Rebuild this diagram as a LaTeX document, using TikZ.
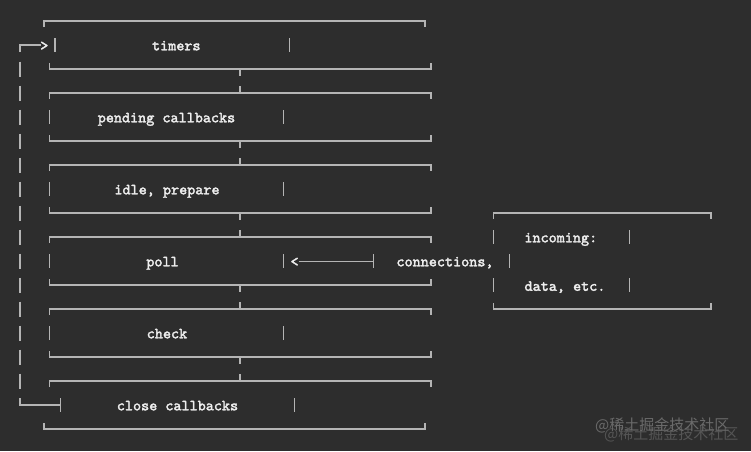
\documentclass[tikz,border=0pt]{standalone}
\usepackage{fontspec}
\newfontfamily\cjk{Noto Sans CJK SC}
\newfontfamily\mono{lmmono10-regular.otf}[FakeBold=2.2]
\definecolor{bgc}{HTML}{2D2D2D}
\definecolor{linec}{HTML}{B4B4B4}
\definecolor{txtc}{HTML}{EEEEEE}
\definecolor{wma}{HTML}{6A6A6A}
\definecolor{wmb}{HTML}{555555}
\begin{document}
\begin{tikzpicture}[x=1pt,y=-1pt,
  ln/.style={draw=linec, line width=1.3pt},
  txt/.style={text=txtc, font=\mono\fontsize{15.4}{16}\selectfont, inner sep=0pt, anchor=base},
  wm/.style={font=\cjk\fontsize{15}{16}\selectfont, inner sep=0pt, anchor=base west}]
\fill[bgc] (0,0) rectangle (751,451);
\useasboundingbox (0,0) rectangle (751,451);

% ---------- phase boxes: top borders ----------
\draw[ln] (44,27) -- (44,21) -- (425,21) -- (425,27);
\foreach \i in {1,...,5}{
  \pgfmathsetmacro{\yt}{21+72*\i}
  \draw[ln] (49.5,\yt+6) -- (49.5,\yt) -- (431,\yt) -- (431,\yt+6);
  \draw[ln] (240,\yt) -- (240,\yt-7);
}
% ---------- bottom borders ----------
\foreach \i in {0,...,4}{
  \pgfmathsetmacro{\yb}{69+72*\i}
  \draw[ln] (49.5,\yb-6) -- (49.5,\yb) -- (431,\yb) -- (431,\yb-6);
  \draw[ln] (240,\yb) -- (240,\yb+7);
}
\draw[ln] (44,423) -- (44,429) -- (425,429) -- (425,423);

% ---------- side bars of the text rows ----------
\foreach \xl/\xr/\yc in {55/289.3/45, 49.7/283.7/117, 49.7/283.5/189, 49.7/283.5/261, 49.7/283.7/333}{
  \draw[ln] (\xl,\yc-7) -- (\xl,\yc+7);
  \draw[ln] (\xr,\yc-7) -- (\xr,\yc+7);
}
\draw[ln] (294.7,398) -- (294.7,412);

% ---------- phase labels ----------
\node[txt] (timers) at (176.3,50.3) {timers};
\node[txt] (pending) at (166.5,122.3) {pending callbacks};
\node[txt] (idle) at (167,194.3) {idle, prepare};
\node[txt] (poll) at (162.5,266.3) {poll};
\node[txt] (check) at (167,338.3) {check};
\node[txt] (close) at (177.5,410.3) {close callbacks};

% ---------- loop on the left ----------
\coordinate (loopTop) at (20,45);
\coordinate (loopBot) at (20,405);
\draw[ln] (20,52) -- (loopTop) -- (40.5,45);
\node[txt] (gt) at (44.3,50.3) {>};
\foreach \k in {0,...,13}{
  \pgfmathsetmacro{\yc}{69+24*\k}
  \draw[ln] (20,\yc-7.5) -- (20,\yc+7.5);
}
\draw[ln] (20,398) -- (loopBot) -- (60.7,405);
\draw[ln] (60.7,398) -- (60.7,412);

% ---------- incoming box ----------
\draw[ln] (493.3,219) -- (493.3,213) -- (711,213) -- (711,219);
\draw[ln] (493.3,303) -- (493.3,309) -- (711,309) -- (711,303);
\foreach \yc in {237,285}{
  \draw[ln] (493.3,\yc-7) -- (493.3,\yc+7);
  \draw[ln] (629.3,\yc-7) -- (629.3,\yc+7);
}
\node[txt] (incoming) at (560.8,242.3) {incoming:};
\node[txt] (data) at (565,290.8) {data, etc.};
\node[txt] (conn) at (445,266.3) {connections,};
\draw[ln] (509.3,254) -- (509.3,268);

% ---------- arrow into poll ----------
\node[txt] (lt) at (294.6,266.3) {<};
\coordinate (tee) at (373.3,261.5);
\draw[ln] (298.5,261.5) -- (tee);
\draw[ln] (373.3,254) -- (373.3,268);

% ---------- watermark ----------
\node[wm, text=wmb] (wm2) at (604,439) {@稀土掘金技术社区};
\node[wm, text=wma] (wm1) at (595,430.5) {@稀土掘金技术社区};
\end{tikzpicture}
\end{document}
